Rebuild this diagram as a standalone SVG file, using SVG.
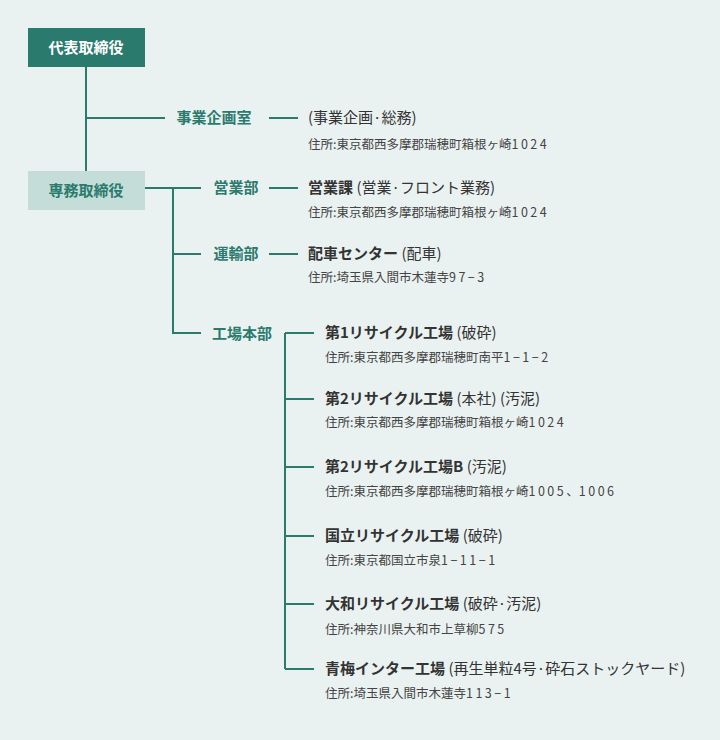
<svg xmlns="http://www.w3.org/2000/svg" width="720" height="740" viewBox="0 0 720 740">
<style>
text{font-family:"Noto Sans CJK JP","Noto Sans",sans-serif}
.l{stroke:#2a7a6e;stroke-width:2;fill:none}
.dept{fill:#2a7a6e;font-size:15px;font-weight:bold;text-anchor:middle}
.t{fill:#333;font-size:15px;font-weight:bold}
.n{font-weight:normal}
.a{fill:#444;font-size:12.5px}
.d{letter-spacing:2.5px}
</style>
<rect width="720" height="740" fill="#eaf2f1"/>
<g id="connectors" class="l">
<path d="M86 67V171M86 118H165M269 118H298"/>
<path d="M145 188H201M173 188V333H201M173 254H201M269 188H298M269 254H298M285 333H314"/>
<path d="M285 333V669M285 399H314M285 467H314M285 536H314M285 604H314M285 669H314"/>
</g>
<g id="ceo"><rect x="28" y="28" width="117" height="39" fill="#2a7a6e"/><text x="86" y="53" fill="#fff" font-size="15" font-weight="bold" text-anchor="middle">代表取締役</text></g>
<g id="senmu"><rect x="28" y="171" width="117" height="39" fill="#c5ddd8"/><text x="86" y="196" fill="#2a7a6e" font-size="15" font-weight="bold" text-anchor="middle">専務取締役</text></g>
<g id="kikaku"><text class="dept" x="214" y="123">事業企画室</text></g>
<g id="eigyo"><text class="dept" x="236" y="193">営業部</text></g>
<g id="unyu"><text class="dept" x="236" y="259">運輸部</text></g>
<g id="kojo"><text class="dept" x="242" y="339">工場本部</text></g>
<g id="d1"><text class="t n" x="308" y="123">(事業企画·総務)</text><text class="a" x="308" y="149">住所:東京都西多摩郡瑞穂町箱根ヶ崎<tspan class="d">1024</tspan></text></g>
<g id="d2"><text class="t" x="308" y="193">営業課 <tspan class="n">(営業·フロント業務)</tspan></text><text class="a" x="308" y="217">住所:東京都西多摩郡瑞穂町箱根ヶ崎<tspan class="d">1024</tspan></text></g>
<g id="d3"><text class="t" x="308" y="259">配車センター <tspan class="n">(配車)</tspan></text><text class="a" x="308" y="282">住所:埼玉県入間市木蓮寺<tspan class="d">97−3</tspan></text></g>
<g id="f1"><text class="t" x="325" y="338">第1リサイクル工場 <tspan class="n">(破砕)</tspan></text><text class="a" x="325" y="362">住所:東京都西多摩郡瑞穂町南平<tspan class="d">1−1−2</tspan></text></g>
<g id="f2"><text class="t" x="325" y="404">第2リサイクル工場 <tspan class="n">(本社) (汚泥)</tspan></text><text class="a" x="325" y="427">住所:東京都西多摩郡瑞穂町箱根ヶ崎<tspan class="d">1024</tspan></text></g>
<g id="f3"><text class="t" x="325" y="472">第2リサイクル工場B <tspan class="n">(汚泥)</tspan></text><text class="a" x="325" y="496">住所:東京都西多摩郡瑞穂町箱根ヶ崎<tspan class="d">1005</tspan>、<tspan class="d">1006</tspan></text></g>
<g id="f4"><text class="t" x="325" y="541">国立リサイクル工場 <tspan class="n">(破砕)</tspan></text><text class="a" x="325" y="565">住所:東京都国立市泉<tspan class="d">1−11−1</tspan></text></g>
<g id="f5"><text class="t" x="325" y="609">大和リサイクル工場 <tspan class="n">(破砕·汚泥)</tspan></text><text class="a" x="325" y="634">住所:神奈川県大和市上草柳<tspan class="d">575</tspan></text></g>
<g id="f6"><text class="t" x="325" y="674">青梅インター工場 <tspan class="n">(再生単粒4号·砕石ストックヤード)</tspan></text><text class="a" x="325" y="698">住所:埼玉県入間市木蓮寺<tspan class="d">113−1</tspan></text></g>
</svg>
